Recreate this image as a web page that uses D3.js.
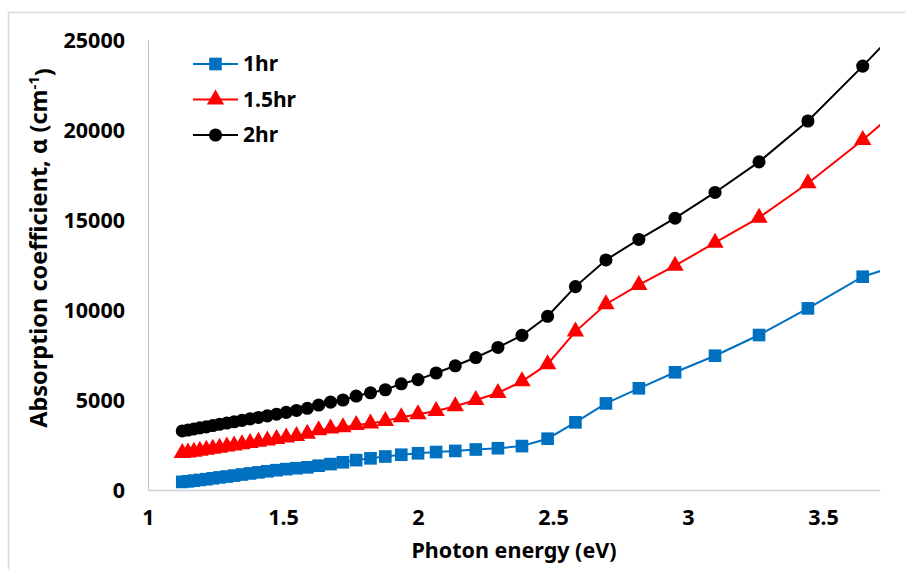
<!DOCTYPE html>
<html>
<head>
<meta charset="utf-8">
<script src="https://cdn.jsdelivr.net/npm/d3@7"></script>
<style>
  body { margin: 0; background: #fff; }
  text { font-family: "Noto Sans", "Open Sans", sans-serif; font-weight: bold; fill: #000; }
</style>
</head>
<body>
<div id="chart"></div>
<script>
// photon energy (eV) of every measured point
var energy = [1.127, 1.148, 1.170, 1.192, 1.216, 1.240, 1.265, 1.292, 1.319, 1.348,
              1.378, 1.409, 1.442, 1.476, 1.512, 1.550, 1.590, 1.632, 1.676, 1.722,
              1.771, 1.824, 1.879, 1.938, 2.000, 2.067, 2.138, 2.214, 2.296, 2.385,
              2.480, 2.583, 2.696, 2.818, 2.952, 3.100, 3.263, 3.444, 3.647, 3.875];

// absorption coefficient (cm-1) for each deposition time
var alpha1hr = [450, 480, 520, 560, 600, 650, 700, 750, 800, 860,
                920, 980, 1040, 1100, 1160, 1210, 1260, 1350, 1440, 1540,
                1660, 1760, 1860, 1960, 2040, 2110, 2170, 2250, 2320, 2440,
                2850, 3760, 4810, 5650, 6540, 7460, 8610, 10090, 11850, 12950];

var alpha15hr = [2050, 2090, 2130, 2180, 2230, 2290, 2350, 2410, 2470, 2540,
                 2610, 2680, 2750, 2830, 2910, 3000, 3130, 3320, 3420, 3480,
                 3610, 3700, 3840, 4040, 4210, 4390, 4650, 5000, 5390, 6040,
                 6990, 8800, 10320, 11390, 12460, 13740, 15130, 17040, 19440, 22400];

var alpha2hr = [3280, 3330, 3390, 3450, 3510, 3580, 3650, 3720, 3790, 3870,
                3950, 4030, 4120, 4210, 4310, 4420, 4540, 4720, 4880, 5000,
                5220, 5400, 5570, 5900, 6130, 6500, 6900, 7360, 7920, 8590,
                9650, 11300, 12780, 13920, 15100, 16530, 18230, 20500, 23550, 27100];

var seriesNames = ["1hr", "1.5hr", "2hr"];
var xTicks = [1, 1.5, 2, 2.5, 3, 3.5];
var yTicks = [0, 5000, 10000, 15000, 20000, 25000];

var series = [
    {name: seriesNames[0], values: alpha1hr, color: "#0070C0", symbol: d3.symbolSquare, size: 160},
    {name: seriesNames[1], values: alpha15hr, color: "#FF0000", symbol: d3.symbolTriangle, size: 130},
    {name: seriesNames[2], values: alpha2hr, color: "#000000", symbol: d3.symbolCircle, size: 135}
];

var W = 905, H = 569;
var margin = {top: 40, right: 25, bottom: 79, left: 148},
    width = W - margin.left - margin.right,
    height = H - margin.top - margin.bottom;

var svg = d3.select("#chart")
    .append("svg")
    .attr("width", W)
    .attr("height", H);

// chart border
svg.append("rect")
    .attr("x", 8.5).attr("y", 12.5)
    .attr("width", 910).attr("height", 580)
    .attr("fill", "none")
    .attr("stroke", "#D9D9D9")
    .attr("stroke-width", 1.5);

var g = svg.append("g")
    .attr("transform", "translate(" + margin.left + "," + margin.top + ")");

var x = d3.scaleLinear().domain([1, 3.711]).range([0, width]);
var y = d3.scaleLinear().domain([0, 25000]).range([height, 0]);

// axes
var yAxis = g.append("g")
    .call(d3.axisLeft(y).tickValues(yTicks).tickSize(0).tickPadding(23).tickFormat(d3.format("d")));
yAxis.select(".domain").attr("stroke", "#BFBFBF").attr("stroke-width", 1);
yAxis.selectAll("text").style("font-size", "21.5px").attr("dy", "0.35em");

var xAxis = g.append("g")
    .attr("transform", "translate(0," + height + ")")
    .call(d3.axisBottom(x).tickValues(xTicks).tickSize(0).tickPadding(20).tickFormat(d3.format("")));
xAxis.select(".domain").attr("stroke", "#D0D0D0").attr("stroke-width", 1.5);
xAxis.selectAll("text").style("font-size", "21.5px");

// axis titles
svg.append("text")
    .attr("x", 514).attr("y", 558)
    .style("text-anchor", "middle")
    .style("font-size", "21.5px")
    .text("Photon energy (eV)");

var yt = svg.append("text")
    .attr("transform", "translate(47,248) rotate(-90)")
    .style("text-anchor", "middle")
    .style("font-size", "23.5px");
yt.append("tspan").text("Absorption coefficient, α (cm");
yt.append("tspan").attr("dy", "-0.55em").style("font-size", "15px").text("-1");
yt.append("tspan").attr("dy", "0.55em").text(")");

// clip to plot area
g.append("clipPath").attr("id", "plotclip")
    .append("rect")
    .attr("x", 0).attr("y", -margin.top)
    .attr("width", width).attr("height", height + margin.top);

var line = d3.line()
    .x(function(d, i) { return x(energy[i]); })
    .y(function(d) { return y(d); });

var plot = g.append("g").attr("clip-path", "url(#plotclip)");

series.forEach(function(s) {
    plot.append("path")
        .attr("d", line(s.values))
        .attr("fill", "none")
        .attr("stroke", s.color)
        .attr("stroke-width", 2);

    plot.selectAll(null)
        .data(s.values)
        .enter()
        .append("path")
        .attr("transform", function(d, i) { return "translate(" + x(energy[i]) + "," + y(d) + ")"; })
        .attr("d", d3.symbol().type(s.symbol).size(s.size))
        .attr("fill", s.color);
});

// legend
var legend = svg.append("g");
series.forEach(function(s, i) {
    var ly = 64 + i * 35.5;
    legend.append("line")
        .attr("x1", 193).attr("x2", 238)
        .attr("y1", ly).attr("y2", ly)
        .attr("stroke", s.color)
        .attr("stroke-width", 2);
    legend.append("path")
        .attr("transform", "translate(215.5," + ly + ")")
        .attr("d", d3.symbol().type(s.symbol).size(s.size))
        .attr("fill", s.color);
    legend.append("text")
        .attr("x", 243).attr("y", ly)
        .attr("dy", "0.35em")
        .style("font-size", "21px")
        .text(s.name);
});
</script>
</body>
</html>
